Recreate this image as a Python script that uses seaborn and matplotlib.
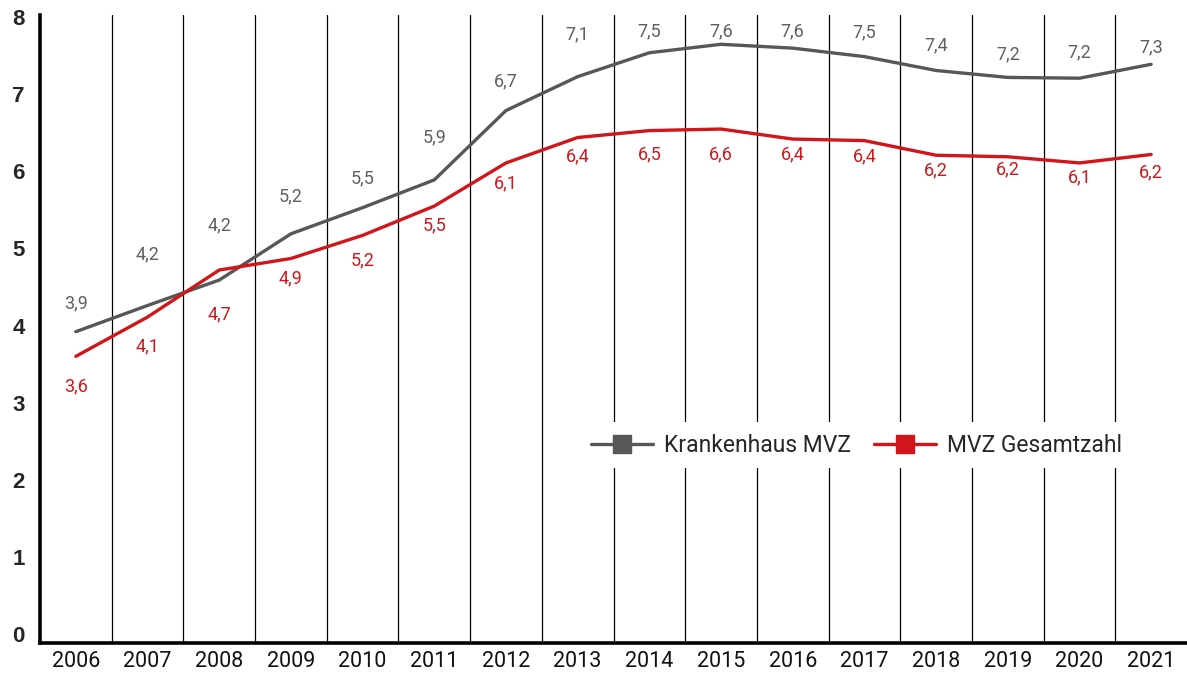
import pandas as pd
import matplotlib.pyplot as plt
import seaborn as sns
from matplotlib.lines import Line2D

years = list(range(2006, 2022))

krankenhaus = [3.92, 4.26, 4.59, 5.19, 5.53, 5.89, 6.79, 7.23, 7.54, 7.65, 7.60, 7.49, 7.31, 7.22, 7.21, 7.39]
gesamt = [3.60, 4.11, 4.72, 4.87, 5.17, 5.55, 6.11, 6.44, 6.53, 6.55, 6.42, 6.40, 6.21, 6.19, 6.11, 6.22]

# printed labels (as shown in the original)
krankenhaus_labels = ["3,9", "4,2", "4,2", "5,2", "5,5", "5,9", "6,7", "7,1", "7,5", "7,6", "7,6", "7,5", "7,4", "7,2", "7,2", "7,3"]
gesamt_labels = ["3,6", "4,1", "4,7", "4,9", "5,2", "5,5", "6,1", "6,4", "6,5", "6,6", "6,4", "6,4", "6,2", "6,2", "6,1", "6,2"]

# label offsets in pixels (layout only)
gray_dy = [28, 51, 55, 37, 29, 43, 29, 42, 21, 13, 17, 24, 25, 23, 26, 17]
red_dy = [30, 29, 44, 20, 25, 19, 20, 19, 24, 25, 15, 16, 15, 13, 14, 18]

GRAY = "#575757"
LABEL_GRAY = "#606060"
RED = "#d0161b"

df = pd.DataFrame({
    "year": years * 2,
    "value": krankenhaus + gesamt,
    "series": ["Krankenhaus MVZ"] * len(years) + ["MVZ Gesamtzahl"] * len(years),
})

sns.set_style("white")
plt.rcParams["font.family"] = ["Roboto", "DejaVu Sans"]

fig = plt.figure(figsize=(11.87, 6.76), dpi=100)
ax = fig.add_axes([40 / 1187, 33 / 676, 1147 / 1187, 628 / 676])

for y in years[:-1]:
    ax.axvline(y + 0.5, color="black", lw=0.9, zorder=0)

sns.lineplot(
    data=df, x="year", y="value", hue="series",
    palette={"Krankenhaus MVZ": GRAY, "MVZ Gesamtzahl": RED},
    linewidth=2.4, legend=False, ax=ax, zorder=3,
)

for x, v, t, d in zip(years, krankenhaus, krankenhaus_labels, gray_dy):
    ax.annotate(t, (x, v), xytext=(0, d), textcoords="offset pixels",
                ha="center", va="center", fontsize=13, color=LABEL_GRAY)
for x, v, t, d in zip(years, gesamt, gesamt_labels, red_dy):
    ax.annotate(t, (x, v), xytext=(0, -d), textcoords="offset pixels",
                ha="center", va="center", fontsize=13, color=RED)

ax.set_xlim(2005.5, 2021.5)
ax.set_ylim(-0.12, 8.03)
ax.set_xticks(years)
ax.set_xticklabels([str(y) for y in years], fontsize=15.5, color="#111111")
ax.set_yticks(range(0, 9))
ax.set_yticklabels([str(i) for i in range(0, 9)], fontsize=16,
                   fontweight="bold", family="Liberation Sans")
ax.tick_params(axis="both", length=0)
ax.tick_params(axis="y", pad=11)
ax.tick_params(axis="x", pad=6)
ax.set_xlabel("")
ax.set_ylabel("")

for side in ["top", "right"]:
    ax.spines[side].set_visible(False)
for side in ["left", "bottom"]:
    ax.spines[side].set_color("black")
    ax.spines[side].set_linewidth(2.6)

handles = [
    Line2D([], [], color=GRAY, lw=2.4, marker="s", markersize=13.5),
    Line2D([], [], color=RED, lw=2.4, marker="s", markersize=13.5),
]
leg = ax.legend(handles, ["Krankenhaus MVZ", "MVZ Gesamtzahl"], ncol=2,
                loc="center", bbox_to_anchor=(0.712, 0.315), frameon=True,
                fontsize=16.5, handlelength=2.7, handletextpad=0.5,
                columnspacing=1.0, borderpad=0.5)
leg.get_frame().set_facecolor("white")
leg.get_frame().set_edgecolor("none")
leg.get_frame().set_alpha(1)
leg.set_zorder(5)

fig.savefig("out.png", dpi=100)
